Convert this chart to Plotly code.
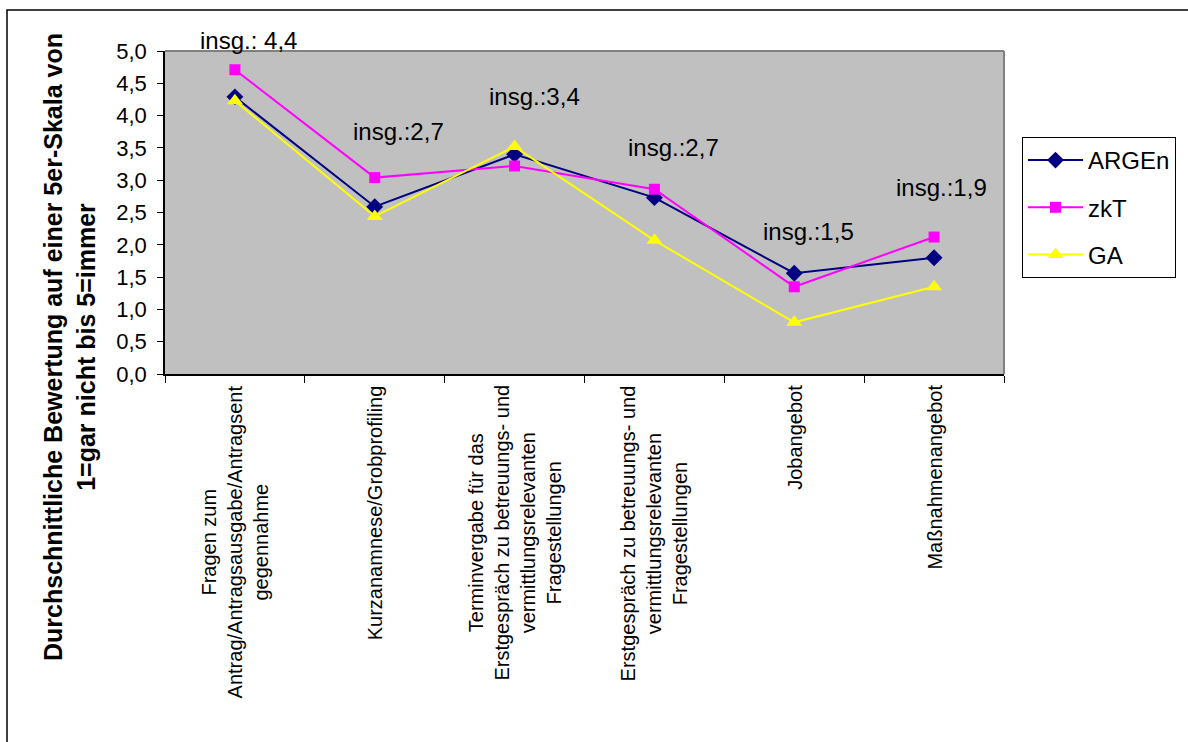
import plotly.graph_objects as go

categories = [
    "Fragen zum<br>Antrag/Antragsausgabe/Antragsent<br>gegennahme",
    "Kurzanamnese/Grobprofiling",
    "Terminvergabe für das<br>Erstgespräch zu betreuungs- und<br>vermittlungsrelevanten<br>Fragestellungen",
    "Erstgespräch zu betreuungs- und<br>vermittlungsrelevanten<br>Fragestellungen",
    "Jobangebot",
    "Maßnahmenangebot",
]
argen = [4.29, 2.59, 3.40, 2.73, 1.56, 1.80]
zkt = [4.71, 3.04, 3.22, 2.86, 1.35, 2.12]
ga = [4.23, 2.44, 3.52, 2.07, 0.80, 1.35]
totals = ["4,4", "2,7", "3,4", "2,7", "1,5", "1,9"]
total_prefix = ["insg.: ", "insg.:", "insg.:", "insg.:", "insg.:", "insg.:"]
y_ticks = [0, 0.5, 1, 1.5, 2, 2.5, 3, 3.5, 4, 4.5, 5]

# label placement (layout only, in axis units)
total_pos_x = [0.1, 0.17, 0.14, 0.14, 0.1, 0.05]
total_pos_y = [5.17, 3.75, 4.29, 3.51, 2.2, 2.88]

FONT = "Liberation Sans, Arial, sans-serif"
xi = list(range(len(categories)))

fig = go.Figure()
fig.add_trace(go.Scatter(x=xi, y=argen, name="ARGEn", mode="lines+markers",
                         line=dict(color="#000080", width=2),
                         marker=dict(symbol="diamond", size=13, color="#000080"),
                         legendgroup="a"))
fig.add_trace(go.Scatter(x=xi, y=zkt, name="zkT", mode="lines+markers",
                         line=dict(color="#FF00FF", width=2),
                         marker=dict(symbol="square", size=11, color="#FF00FF"),
                         legendgroup="b"))
fig.add_trace(go.Scatter(x=xi, y=ga, name="GA", mode="lines+markers",
                         line=dict(color="#FFFF00", width=2),
                         marker=dict(symbol="triangle-up", size=14, color="#FFFF00"),
                         legendgroup="c"))

YMAX = 5
annotations = []
for i, cat in enumerate(categories):
    annotations.append(dict(x=i, y=0, xref="x", yref="paper", yshift=-9,
                            text=cat, textangle=-90, showarrow=False,
                            xanchor="center", yanchor="top", align="center",
                            font=dict(family=FONT, size=20, color="black")))
for i, t in enumerate(totals):
    annotations.append(dict(x=i + total_pos_x[i], y=total_pos_y[i] / YMAX, xref="x", yref="paper",
                            text=total_prefix[i] + t, showarrow=False,
                            xanchor="center", yanchor="middle",
                            font=dict(family=FONT, size=24, color="black")))

L, R, T, B = 165, 184, 51, 368
W, H = 1188, 742
pw, ph = W - L - R, H - T - B

def px(x):
    return (x - L) / pw

def py(y):
    return (H - B - y) / ph

annotations.append(dict(x=px(69), y=py(347), xref="paper", yref="paper",
                        text="<b>Durchschnittliche Bewertung auf einer 5er-Skala von<br>1=gar nicht bis 5=immer</b>",
                        textangle=-90, showarrow=False, align="center",
                        xanchor="center", yanchor="middle",
                        font=dict(family=FONT, size=25, color="black")))

fig.update_layout(
    width=W, height=H,
    margin=dict(l=L, r=R, t=T, b=B),
    paper_bgcolor="white",
    plot_bgcolor="#C0C0C0",
    separators=", ",
    font=dict(family=FONT, size=20, color="black"),
    showlegend=True,
    legend=dict(x=px(1022), y=py(137), xanchor="left", yanchor="top",
                bordercolor="black", borderwidth=1, bgcolor="white",
                font=dict(family=FONT, size=24, color="black"),
                tracegroupgap=13, itemwidth=55),
    xaxis=dict(range=[-0.5, len(categories) - 0.5], tickmode="array",
               tickvals=[i - 0.5 for i in range(len(categories) + 1)],
               ticktext=[""] * (len(categories) + 1),
               ticks="outside", ticklen=7, tickcolor="black", tickwidth=1,
               showline=True, linecolor="black", linewidth=1.5,
               showgrid=False, zeroline=False, fixedrange=True),
    yaxis=dict(range=[0, YMAX], tickvals=y_ticks, tickformat=".1f",
               ticks="outside", ticklen=6, tickcolor="black", tickwidth=1,
               ticklabelstandoff=6,
               showline=True, linecolor="black", linewidth=1.5,
               showgrid=False, zeroline=False,
               tickfont=dict(family=FONT, size=22, color="black")),
    annotations=annotations,
    shapes=[
        dict(type="line", xref="paper", yref="paper", x0=0, x1=1, y0=1, y1=1,
             line=dict(color="#808080", width=2), layer="above"),
        dict(type="line", xref="paper", yref="paper", x0=1, x1=1, y0=0, y1=1,
             line=dict(color="#808080", width=2), layer="above"),
        dict(type="rect", xref="paper", yref="paper",
             x0=px(7), x1=px(1200), y0=py(760), y1=py(10),
             line=dict(color="black", width=1.5)),
    ],
)

fig.write_html("out.html",
               config={"displayModeBar": False},
               post_script="document.body.style.margin='0';document.body.style.overflow='hidden';")
